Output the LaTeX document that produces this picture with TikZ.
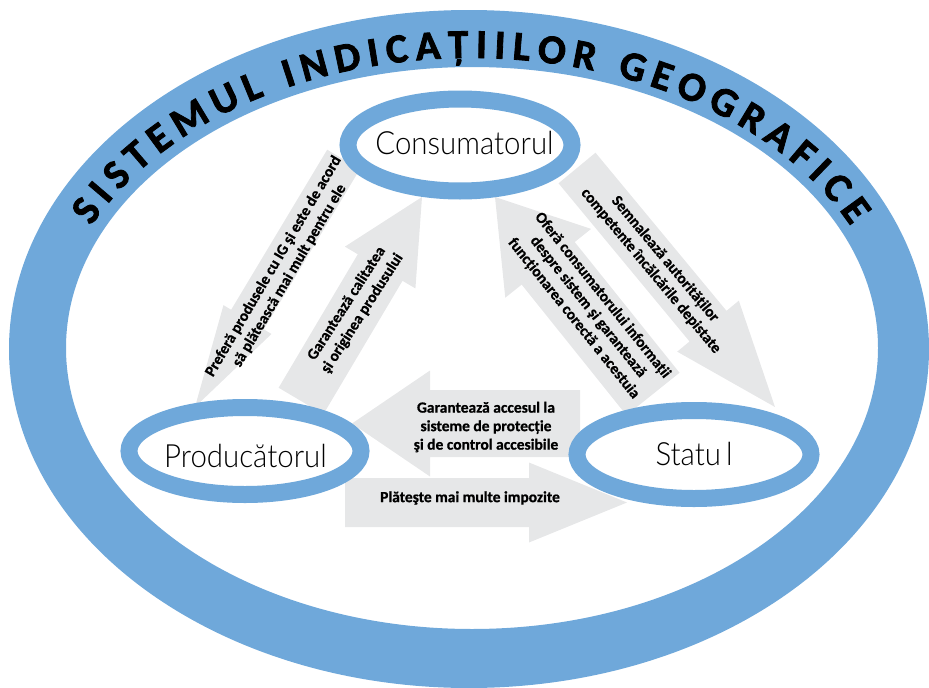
\documentclass[tikz,border=0pt]{standalone}
\usepackage{fontspec}
\setmainfont{Carlito}
\IfFontExistsTF{Lato Light}{\newfontfamily\lightfont{Lato Light}[FakeStretch=0.92]}{\newfontfamily\lightfont{Carlito}}
\newfontfamily\heavyfont{Carlito}[BoldFeatures={FakeBold=0.8}]
\newfontfamily\titlefont{Carlito}[BoldFeatures={FakeBold=2}]
\usetikzlibrary{shapes.geometric,decorations.text,calc}
\definecolor{ringblue}{RGB}{111,168,218}
\definecolor{arrowgray}{RGB}{230,231,232}
\newcommand{\titlestyle}{\titlefont\fontsize{41}{46}\selectfont\bfseries}
% block arrow: #1 tail, #2 tip, #3 shaft half width, #4 head half width, #5 head length
\newcommand{\blockarrow}[5]{%
  \fill[arrowgray] let \p1=(#1), \p2=(#2),
     \n1={atan2(\y2-\y1,\x2-\x1)},
     \n2={veclen(\x2-\x1,\y2-\y1)-#5}
   in ($(#1)+(\n1+90:#3pt)$) -- ($(#1)+(\n1:\n2)+(\n1+90:#3pt)$)
   -- ($(#1)+(\n1:\n2)+(\n1+90:#4pt)$) -- (#2)
   -- ($(#1)+(\n1:\n2)+(\n1-90:#4pt)$) -- ($(#1)+(\n1:\n2)+(\n1-90:#3pt)$)
   -- ($(#1)+(\n1-90:#3pt)$) -- cycle;}
\begin{document}
\begin{tikzpicture}[x=1pt,y=-1pt,
  ringshape/.style={ellipse, draw=ringblue, line width=17pt, fill=white, inner sep=0pt, outer sep=0pt},
  ringtext/.style={font=\lightfont\fontsize{32}{38}\selectfont, anchor=base, inner sep=0pt},
  arrowtext/.style={font=\heavyfont\bfseries\fontsize{15.5}{18.5}\selectfont, align=center, inner sep=0pt}]
\useasboundingbox (0,0) rectangle (929,688);
% outer ring
\fill[ringblue, even odd rule] (469,349) ellipse [x radius=460, y radius=339]
                               (472,348) ellipse [x radius=406, y radius=281];
% arrow end points
\coordinate (a1s) at (343.5,159.5); \coordinate (a1e) at (195,407);
\coordinate (a2s) at (301,401);     \coordinate (a2e) at (422,197);
\coordinate (a3s) at (577,168);     \coordinate (a3e) at (775,407);
\coordinate (a4s) at (653,394);     \coordinate (a4e) at (495,197);
\coordinate (a5s) at (580,423.5);   \coordinate (a5e) at (352,423.5);
\coordinate (a6s) at (345,502.5);   \coordinate (a6e) at (627,502.5);
\blockarrow{a1s}{a1e}{19}{28}{102}
\blockarrow{a2s}{a2e}{26}{41}{82}
\blockarrow{a3s}{a3e}{24}{40}{105}
\blockarrow{a4s}{a4e}{34}{55}{85}
\blockarrow{a5s}{a5e}{33.5}{53}{78}
\blockarrow{a6s}{a6e}{24.5}{40}{98}
% rings
\node[ringshape, minimum width=224pt, minimum height=92pt] (consring) at (460,145) {};
\node[ringshape, minimum width=232pt, minimum height=87pt] (prodring) at (245,451) {};
\node[ringshape, minimum width=234pt, minimum height=88pt] (statring) at (694,454.5) {};
\node[ringtext] (cons) at (464.5,154) {Consumatorul};
\node[ringtext] (prod) at (245.5,467) {Producătorul};
\node[ringtext] (stat) at (694,465) {Statu\kern5pt l};
% arrow texts
\node[arrowtext, rotate=59.5] (t1) at (281.5,271) {Preferă produsele cu IG şi este de acord\\să plătească mai mult pentru ele};
\node[arrowtext, rotate=57.3] (t2) at (354.5,308.5) {Garantează calitatea\\şi originea produsului};
\node[arrowtext, rotate=-50.2] (t3) at (658,265) {Semnalează autorităților\\competente încălcările depistate};
\node[arrowtext, rotate=-51.3] (t4) at (588,307) {Oferă consumatorului informații\\despre sistem şi garantează\\funcționarea corectă a acestuia};
\node[arrowtext] (t5) at (486,427) {Garantează accesul la\\sisteme de protecție\\şi de control accesibile};
\node[arrowtext] (t6) at (470,498) {Plăteşte mai multe impozite};
% title along the ring
\path[decorate, decoration={text along path, text={|\titlestyle|SISTEMUL INDICAȚIILOR GEOGRAFICE}, text align=fit to path}]
  (471,349) ++(-155:419 and 291) arc[start angle=-155, end angle=-25, x radius=419, y radius=291];
\end{tikzpicture}
\end{document}
